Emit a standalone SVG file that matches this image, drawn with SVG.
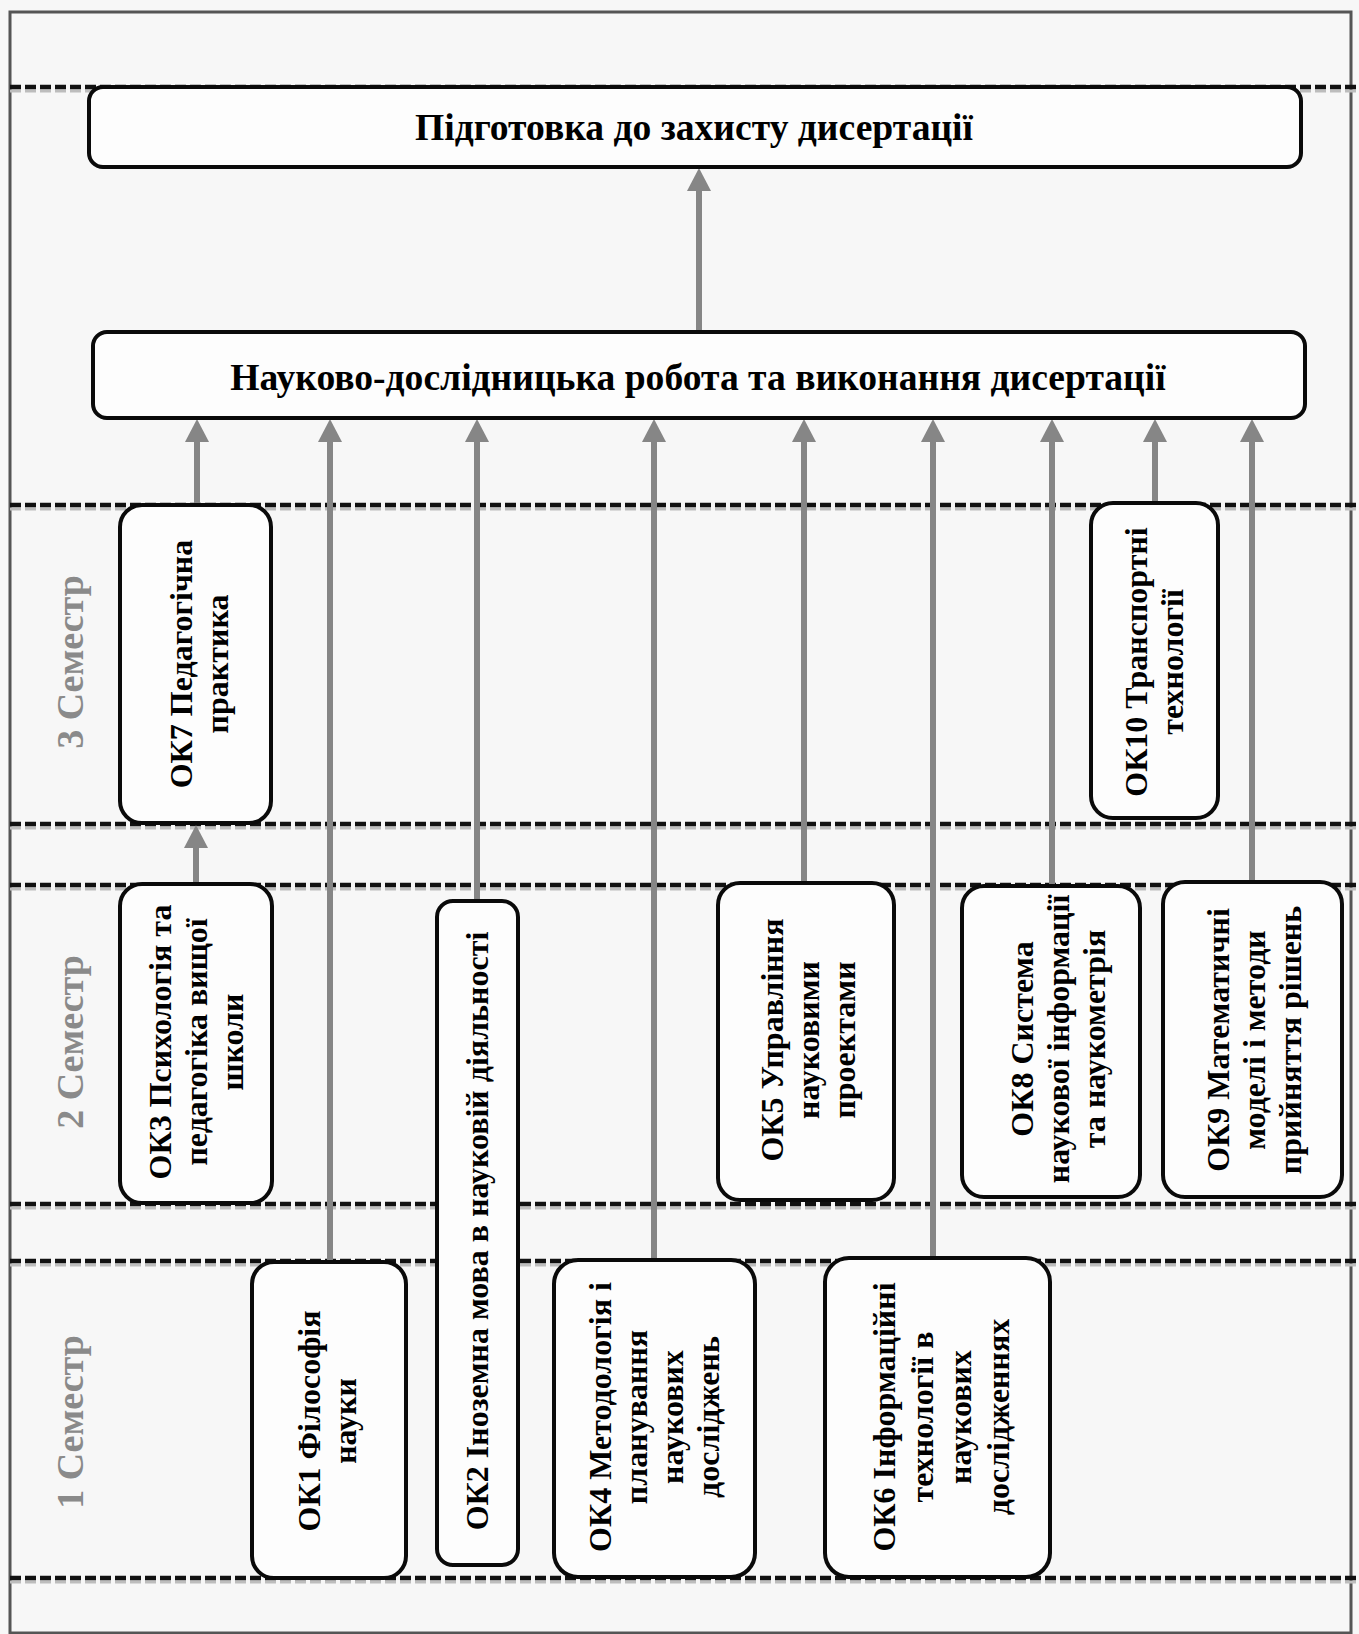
<svg xmlns="http://www.w3.org/2000/svg" width="1359" height="1634" viewBox="0 0 1359 1634">
<defs>
<style>
.bg{fill:#f7f7f7}
.frame{fill:none;stroke:#555;stroke-width:3}
.dash{stroke:#111;stroke-width:4.5;stroke-dasharray:11 4;fill:none}
.dsh{stroke:#bdbdbd;stroke-width:3;stroke-dasharray:11 4;fill:none}
.conn{stroke:#868686;stroke-width:6;fill:none}
.box{fill:#fdfdfd;stroke:#0a0a0a;stroke-width:4}
.t{font-family:"Liberation Serif","Times New Roman",serif;font-weight:bold;fill:#000;text-anchor:middle}
.h{font-size:37.6px}
.v{font-size:32px}
.sem{font-family:"Liberation Serif","Times New Roman",serif;font-weight:bold;fill:#8a8a8a;font-size:38px;text-anchor:middle}
</style>
<marker id="ah" markerUnits="userSpaceOnUse" markerWidth="26" markerHeight="28" viewBox="0 -14 26 28" refX="1" refY="0" orient="auto" overflow="visible">
<path d="M0,-12 L23,0 L0,12 z" fill="#868686"/>
</marker>
</defs>
<rect class="bg" x="0" y="0" width="1359" height="1634"/>
<rect class="frame" x="10" y="12" width="1341" height="1621"/>

<g id="lanes">
<line class="dsh" x1="10" y1="91" x2="1359" y2="91"/>
<line class="dash" x1="10" y1="87" x2="1359" y2="87"/>
<line class="dsh" x1="10" y1="509" x2="1359" y2="509"/>
<line class="dash" x1="10" y1="505" x2="1359" y2="505"/>
<line class="dsh" x1="10" y1="828" x2="1359" y2="828"/>
<line class="dash" x1="10" y1="824" x2="1359" y2="824"/>
<line class="dsh" x1="10" y1="889" x2="1359" y2="889"/>
<line class="dash" x1="10" y1="885" x2="1359" y2="885"/>
<line class="dsh" x1="10" y1="1208" x2="1359" y2="1208"/>
<line class="dash" x1="10" y1="1204" x2="1359" y2="1204"/>
<line class="dsh" x1="10" y1="1265" x2="1359" y2="1265"/>
<line class="dash" x1="10" y1="1261" x2="1359" y2="1261"/>
<line class="dsh" x1="10" y1="1582" x2="1359" y2="1582"/>
<line class="dash" x1="10" y1="1578" x2="1359" y2="1578"/>
</g>

<g id="semesters">
<text class="sem" transform="rotate(-90)" x="-662" y="83">3 Семестр</text>
<text class="sem" transform="rotate(-90)" x="-1042" y="83">2 Семестр</text>
<text class="sem" transform="rotate(-90)" x="-1422" y="83">1 Семестр</text>
</g>

<g id="connectors">
<line class="conn" x1="699" y1="331" x2="699" y2="190" marker-end="url(#ah)"/>
<line class="conn" x1="197" y1="505" x2="197" y2="441" marker-end="url(#ah)"/>
<line class="conn" x1="330" y1="1262" x2="330" y2="441" marker-end="url(#ah)"/>
<line class="conn" x1="477" y1="901" x2="477" y2="441" marker-end="url(#ah)"/>
<line class="conn" x1="654" y1="1260" x2="654" y2="441" marker-end="url(#ah)"/>
<line class="conn" x1="804" y1="883" x2="804" y2="441" marker-end="url(#ah)"/>
<line class="conn" x1="933" y1="1258" x2="933" y2="441" marker-end="url(#ah)"/>
<line class="conn" x1="1052" y1="886" x2="1052" y2="441" marker-end="url(#ah)"/>
<line class="conn" x1="1155" y1="503" x2="1155" y2="441" marker-end="url(#ah)"/>
<line class="conn" x1="1252" y1="882" x2="1252" y2="441" marker-end="url(#ah)"/>
<line class="conn" x1="196" y1="884" x2="196" y2="847" marker-end="url(#ah)"/>
</g>

<g id="defense">
<rect class="box" x="89" y="87" width="1212" height="80" rx="14"/>
<text class="t h" x="694" y="140">Підготовка до захисту дисертації</text>
</g>
<g id="research">
<rect class="box" x="93" y="332" width="1212" height="86" rx="14"/>
<text class="t h" x="698" y="390">Науково-дослідницька робота та виконання дисертації</text>
</g>

<g id="ok7">
<rect class="box" x="120" y="505" width="151" height="318" rx="22"/>
<text class="t v" transform="rotate(-90)"><tspan x="-664" y="192">ОК7 Педагогічна</tspan><tspan x="-664" y="228">практика</tspan></text>
</g>
<g id="ok10">
<rect class="box" x="1091" y="503" width="127" height="315" rx="22"/>
<text class="t v" transform="rotate(-90)"><tspan x="-662" y="1147">ОК10 Транспортні</tspan><tspan x="-662" y="1183">технології</tspan></text>
</g>
<g id="ok3">
<rect class="box" x="120" y="884" width="152" height="319" rx="22"/>
<text class="t v" transform="rotate(-90)"><tspan x="-1042" y="171">ОК3 Психологія та</tspan><tspan x="-1042" y="207">педагогіка вищої</tspan><tspan x="-1042" y="243">школи</tspan></text>
</g>
<g id="ok2">
<rect class="box" x="437" y="901" width="81" height="664" rx="16"/>
<text class="t v" transform="rotate(-90)" x="-1231" y="488">ОК2 Іноземна мова в науковій діяльності</text>
</g>
<g id="ok5">
<rect class="box" x="718" y="883" width="176" height="317" rx="22"/>
<text class="t v" transform="rotate(-90)"><tspan x="-1040" y="783">ОК5 Управління</tspan><tspan x="-1040" y="819">науковими</tspan><tspan x="-1040" y="855">проектами</tspan></text>
</g>
<g id="ok8">
<rect class="box" x="962" y="886" width="178" height="311" rx="22"/>
<text class="t v" transform="rotate(-90)"><tspan x="-1039" y="1033">ОК8 Система</tspan><tspan x="-1039" y="1069">наукової інформації</tspan><tspan x="-1039" y="1105">та наукометрія</tspan></text>
</g>
<g id="ok9">
<rect class="box" x="1163" y="882" width="179" height="315" rx="22"/>
<text class="t v" transform="rotate(-90)"><tspan x="-1040" y="1229">ОК9 Математичні</tspan><tspan x="-1040" y="1265">моделі і методи</tspan><tspan x="-1040" y="1301">прийняття рішень</tspan></text>
</g>
<g id="ok1">
<rect class="box" x="252" y="1262" width="154" height="316" rx="22"/>
<text class="t v" transform="rotate(-90)"><tspan x="-1421" y="320">ОК1 Філософія</tspan><tspan x="-1421" y="356">науки</tspan></text>
</g>
<g id="ok4">
<rect class="box" x="554" y="1260" width="201" height="317" rx="24"/>
<text class="t v" transform="rotate(-90)"><tspan x="-1417" y="611">ОК4 Методологія і</tspan><tspan x="-1417" y="647">планування</tspan><tspan x="-1417" y="683">наукових</tspan><tspan x="-1417" y="719">досліджень</tspan></text>
</g>
<g id="ok6">
<rect class="box" x="825" y="1258" width="225" height="319" rx="24"/>
<text class="t v" transform="rotate(-90)"><tspan x="-1417" y="895">ОК6 Інформаційні</tspan><tspan x="-1417" y="933">технології в</tspan><tspan x="-1417" y="971">наукових</tspan><tspan x="-1417" y="1009">дослідженнях</tspan></text>
</g>
</svg>
